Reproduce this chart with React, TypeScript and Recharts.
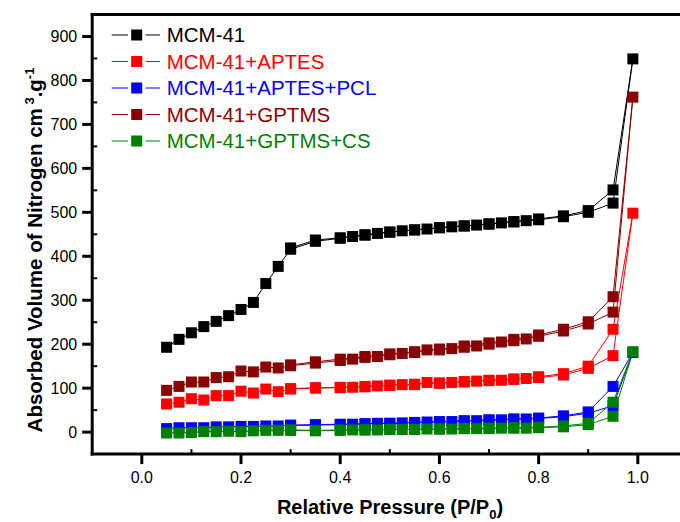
import React from "react";
import { LineChart, Line, XAxis, YAxis, Legend, Label } from "recharts";

// Relative pressure (P/P0) of the adsorption branch and of the desorption branch
const adsP = [0.05, 0.075, 0.1, 0.125, 0.15, 0.175, 0.2, 0.225, 0.25, 0.275, 0.3, 0.35, 0.4, 0.425, 0.45, 0.475, 0.5, 0.525, 0.55, 0.575, 0.6, 0.625, 0.65, 0.675, 0.7, 0.725, 0.75, 0.775, 0.8, 0.85, 0.9, 0.95, 0.99];
const desP = [0.95, 0.9, 0.85, 0.8, 0.75, 0.7, 0.65, 0.6, 0.55, 0.5, 0.45, 0.4, 0.35, 0.3];

// Absorbed volume (cm3/g)
const mcmAds = [193, 211, 226, 240, 252, 265, 279, 295, 338, 377, 416, 434, 441, 445, 448, 452, 455, 458, 460, 462, 465, 467, 469, 471, 473, 476, 478, 481, 483, 490, 500, 521, 849];
const mcmDes = [551, 504, 492, 485, 479, 474, 469, 465, 460, 455, 449, 442, 437, 419];

const aptesAds = [64, 68, 76, 73, 83, 83, 93, 89, 98, 92, 98, 100, 101, 102, 103, 105, 106, 108, 108, 113, 111, 113, 114, 116, 117, 118, 120, 122, 124, 130, 145, 174, 498];
const aptesDes = [234, 150, 133, 126, 121, 118, 115, 112, 109, 107, 104, 102, 101, 99];

const pclAds = [8, 10, 10, 10, 12, 12, 13, 13, 14, 14, 15, 16, 17, 18, 19, 20, 20, 21, 22, 23, 23, 24, 25, 26, 27, 28, 29, 30, 31, 35, 43, 60, 181];
const pclDes = [104, 46, 37, 32, 30, 28, 26, 24, 22, 20, 19, 18, 17, 16];

const gptmsAds = [95, 104, 114, 114, 124, 126, 139, 137, 148, 146, 151, 157, 163, 166, 170, 172, 176, 179, 181, 187, 187, 190, 193, 196, 200, 205, 208, 212, 218, 230, 246, 273, 762];
const gptmsDes = [308, 251, 234, 221, 211, 203, 196, 189, 183, 178, 172, 166, 160, 153];

const csAds = [-2, -2, -1, 1, 1, 2, 1, 3, 4, 4, 4, 3, 4, 5, 5, 5, 6, 6, 6, 7, 7, 7, 8, 8, 8, 9, 9, 9, 10, 12, 17, 36, 183];
const csDes = [68, 20, 14, 11, 10, 9, 8, 7, 6, 6, 5, 5, 4, 5];

const seriesNames = ["MCM-41", "MCM-41+APTES", "MCM-41+APTES+PCL", "MCM-41+GPTMS", "MCM-41+GPTMS+CS"];
const seriesColors = ["#000000", "#ff0000", "#0000ff", "#8b0000", "#008000"];

const xTicks = [0, 0.1, 0.2, 0.3, 0.4, 0.5, 0.6, 0.7, 0.8, 0.9, 1.0];
const yTicks = [0, 50, 100, 150, 200, 250, 300, 350, 400, 450, 500, 550, 600, 650, 700, 750, 800, 850, 900];

const FONT = "'Liberation Sans', Arial, Helvetica, sans-serif";

const loop = (ads: number[], des: number[]) => [
  ...adsP.map((p, i) => ({ p, v: ads[i] })),
  ...desP.map((p, i) => ({ p, v: des[i] })),
];

const seriesData = [
  loop(mcmAds, mcmDes),
  loop(aptesAds, aptesDes),
  loop(pclAds, pclDes),
  loop(gptmsAds, gptmsDes),
  loop(csAds, csDes),
];

const MARK = 11;

const squareDot = (color: string) => (props: any) => {
  const { cx, cy, index } = props;
  if (cx == null || cy == null) return <g key={index} />;
  return (
    <rect key={index} x={cx - MARK / 2} y={cy - MARK / 2} width={MARK} height={MARK} fill={color} stroke="none" />
  );
};

const XTick = (props: any) => {
  const { x, y, payload } = props;
  const v = payload.value as number;
  const major = Math.round(v * 10) % 2 === 0;
  return (
    <g>
      <line x1={x} x2={x} y1={y} y2={major ? y + 10 : y - 5} stroke="#000" strokeWidth={major ? 3 : 2} />
      {major && (
        <text x={x} y={y + 29} textAnchor="middle" fontSize={16} fontFamily={FONT} fill="#000">
          {v.toFixed(1)}
        </text>
      )}
    </g>
  );
};

const YTick = (props: any) => {
  const { x, y, payload } = props;
  const v = payload.value as number;
  const major = v % 100 === 0;
  return (
    <g>
      <line x1={x} x2={major ? x - 10 : x + 5} y1={y} y2={y} stroke="#000" strokeWidth={major ? 3 : 2} />
      {major && (
        <text x={x - 15} y={y + 5.7} textAnchor="end" fontSize={16} fontFamily={FONT} fill="#000">
          {v}
        </text>
      )}
    </g>
  );
};

const renderLegend = () => (
  <svg width={340} height={140} style={{ display: "block" }}>
    {seriesNames.map((name, i) => {
      const cy = 15 + i * 26.5;
      const c = seriesColors[i];
      return (
        <g key={name}>
          <line x1={11.7} x2={28} y1={cy} y2={cy} stroke={c} strokeWidth={1} />
          <line x1={45.5} x2={60} y1={cy} y2={cy} stroke={c} strokeWidth={1} />
          <rect x={36.7 - 5.5} y={cy - 5.5} width={11} height={11} fill={c} />
          <text x={66.7} y={cy + 7.3} fontSize={20.5} fontFamily={FONT} fill={c}>
            {name}
          </text>
        </g>
      );
    })}
  </svg>
);

const XTitle = () => (
  <text x={390} y={514} textAnchor="middle" fontSize={20} fontWeight="bold" fontFamily={FONT} fill="#000">
    <tspan>Relative Pressure (P/P</tspan>
    <tspan dy={5} fontSize={13}>0</tspan>
    <tspan dy={-5}>)</tspan>
  </text>
);

const YTitle = () => (
  <text
    x={42}
    y={250}
    transform="rotate(-90 42 250)"
    textAnchor="middle"
    fontSize={20.5}
    fontWeight="bold"
    fontFamily={FONT}
    fill="#000"
  >
    <tspan>Absorbed Volume of Nitrogen cm</tspan>
    <tspan dy={-8} fontSize={13}> 3</tspan>
    <tspan dy={8}>.g</tspan>
    <tspan dy={-8} fontSize={13}>-1</tspan>
  </text>
);

export default function App() {
  return (
    <div style={{ position: "absolute", left: 0, top: 0, width: 680, height: 522, background: "#fff" }}>
      <LineChart width={680} height={522} margin={{ top: 0, right: 0, bottom: 0, left: 0 }}>
        <XAxis
          xAxisId="top"
          orientation="top"
          type="number"
          domain={[-0.1, 1.085]}
          height={14.5}
          tick={false}
          tickLine={false}
          axisLine={{ stroke: "#000", strokeWidth: 3, strokeLinecap: "square" }}
          allowDataOverflow
        />
        <XAxis
          dataKey="p"
          type="number"
          domain={[-0.1, 1.085]}
          ticks={xTicks}
          interval={0}
          height={67.9}
          tickSize={0}
          tickMargin={0}
          tick={<XTick />}
          tickLine={false}
          axisLine={{ stroke: "#000", strokeWidth: 3, strokeLinecap: "square" }}
          allowDataOverflow
        >
          <Label content={<XTitle />} />
        </XAxis>
        <YAxis
          type="number"
          domain={[-50, 950]}
          ticks={yTicks}
          interval={0}
          width={92.2}
          tickSize={0}
          tickMargin={0}
          tick={<YTick />}
          tickLine={false}
          axisLine={{ stroke: "#000", strokeWidth: 3, strokeLinecap: "square" }}
          allowDataOverflow
        >
          <Label content={<YTitle />} />
        </YAxis>
        <Legend
          layout="horizontal"
          verticalAlign="middle"
          align="center"
          wrapperStyle={{ position: "absolute", left: 100, top: 20, width: 340, height: 140 }}
          content={renderLegend}
        />
        {seriesData.map((d, i) => (
          <Line
            key={seriesNames[i]}
            name={seriesNames[i]}
            data={d}
            dataKey="v"
            type="linear"
            stroke={seriesColors[i]}
            strokeWidth={1}
            dot={squareDot(seriesColors[i])}
            activeDot={false}
            isAnimationActive={false}
          />
        ))}
      </LineChart>
    </div>
  );
}
